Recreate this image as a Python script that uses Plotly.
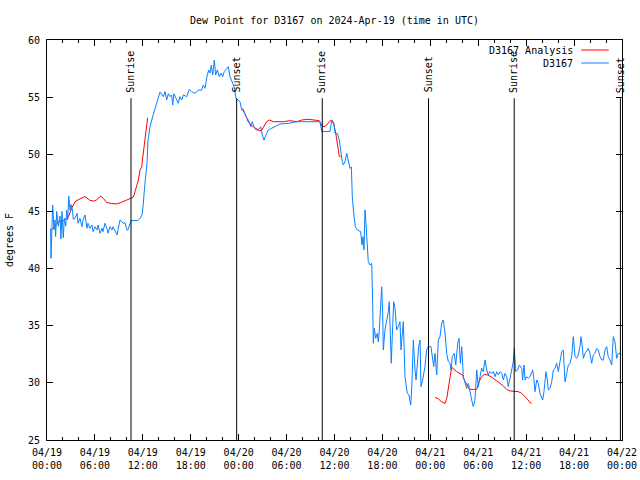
import datetime as dt
import plotly.graph_objects as go

BASE = dt.datetime(2024, 4, 19, 0, 0)

# Observed dew point (D3167): hours since 04/19 00:00 UTC, degrees F
obs_hours = [0.45, 0.5, 0.71, 0.88, 1.0, 1.08, 1.21, 1.42, 1.63, 1.75, 1.88, 2.04, 2.17, 2.34, 2.47, 2.59, 2.72, 2.88,
             3.0, 3.17, 3.3, 3.51, 3.76, 3.88, 4.13, 4.38, 4.51, 4.76, 5.01, 5.13, 5.38, 5.63, 5.76, 6.01, 6.26, 6.39,
             6.64, 6.89, 7.01, 7.26, 7.51, 7.64, 7.89, 8.14, 8.26, 8.51, 8.77, 8.89, 9.14, 9.39, 9.52, 9.77, 10.02,
             10.14, 10.39, 10.52, 11.39, 11.65, 11.9, 12.02, 12.27, 12.52, 12.65, 12.9, 13.27, 13.78, 14.15, 14.57,
             14.78, 14.99, 15.19, 15.4, 15.61, 15.74, 15.9, 16.15, 16.44, 16.65, 16.87, 17.07, 17.49, 17.82, 18.12,
             18.53, 18.95, 19.37, 19.57, 19.78, 19.91, 20.07, 20.25, 20.41, 20.57, 20.75, 20.95, 21.12, 21.32, 21.57,
             21.79, 22.0, 22.2, 22.5, 22.7, 22.92, 23.13, 23.42, 23.67, 23.96, 24.17, 24.38, 24.67, 24.92, 25.2,
             25.51, 25.7, 25.92, 26.17, 26.46, 26.76, 26.96, 27.17, 27.42, 27.71, 28.13, 28.55, 29.18, 30.22, 31.27,
             32.93, 34.18, 34.4, 35.02, 35.44, 35.65, 35.94, 36.06, 36.35, 36.6, 36.78, 36.94, 37.1, 37.32, 37.53,
             37.73, 37.94, 38.11, 38.23, 38.4, 38.61, 38.86, 39.28, 39.44, 39.57, 39.69, 39.82, 39.94, 40.07, 40.23,
             40.45, 40.66, 40.78, 40.86, 40.98, 41.16, 41.36, 41.49, 41.61, 41.78, 41.91, 42.03, 42.11, 42.32, 42.53,
             42.74, 42.86, 43.03, 43.11, 43.28, 43.41, 43.58, 43.78, 43.99, 44.2, 44.33, 44.49, 44.62, 44.83, 45.11,
             45.33, 45.54, 45.66, 45.87, 46.08, 46.21, 46.37, 46.54, 46.71, 46.83, 47.04, 47.33, 47.54, 47.75, 48.08,
             48.25, 48.42, 48.58, 48.8, 49.0, 49.21, 49.42, 49.62, 49.84, 50.05, 50.25, 50.46, 50.59, 50.75, 51.0,
             51.18, 51.43, 51.59, 51.76, 51.93, 52.13, 52.26, 52.55, 52.76, 52.97, 53.18, 53.38, 53.59, 53.81, 54.01,
             54.22, 54.43, 54.63, 54.85, 55.06, 55.26, 55.47, 55.68, 55.89, 56.1, 56.31, 56.51, 56.72, 56.94, 57.14,
             57.35, 57.56, 57.76, 57.98, 58.18, 58.39, 58.52, 58.69, 58.94, 59.15, 59.44, 59.55, 59.73, 59.86, 60.07,
             60.27, 60.48, 60.69, 60.82, 60.98, 61.11, 61.32, 61.52, 61.73, 61.95, 62.07, 62.23, 62.36, 62.48, 62.65,
             62.77, 62.99, 63.2, 63.4, 63.61, 63.82, 64.03, 64.24, 64.45, 64.65, 64.86, 65.08, 65.28, 65.49, 65.7,
             65.9, 66.12, 66.33, 66.53, 66.74, 66.87, 67.03, 67.16, 67.37, 67.58, 67.78, 67.99, 68.21, 68.41, 68.62,
             68.83, 69.03, 69.25, 69.46, 69.66, 69.87, 70.08, 70.28, 70.5, 70.71, 70.91, 71.12, 71.33, 71.54, 71.75,
             71.9]
obs_values = [43.5, 40.9, 45.56, 43.4, 44.25, 42.8, 45.0, 43.7, 44.6, 42.6, 45.0, 42.7, 44.4, 43.7, 45.1, 44.25, 46.35, 45.1,
              45.6, 45.2, 44.3, 44.4, 44.84, 43.96, 44.4, 43.66, 44.25, 44.69, 43.52, 43.96, 43.52, 43.81, 43.23, 43.66,
              43.38, 43.81, 43.09, 43.52, 43.23, 43.96, 43.52, 43.09, 43.66, 43.38, 43.66, 43.23, 42.94, 43.38, 44.25,
              44.1, 43.96, 44.0, 43.38, 43.38, 43.81, 44.2, 44.2, 44.4, 44.7, 45.4, 47.5, 49.2, 51.25, 52.4, 53.4, 54.6,
              55.45, 55.04, 55.48, 54.75, 55.3, 55.04, 55.2, 54.31, 55.3, 54.9, 54.46, 55.04, 54.75, 55.2, 55.04, 55.68,
              55.48, 55.33, 55.62, 55.62, 56.06, 55.77, 56.35, 56.94, 57.38, 57.1, 57.8, 56.94, 58.25, 56.94, 57.38,
              56.8, 57.1, 56.8, 57.24, 57.52, 57.67, 56.8, 56.35, 55.92, 54.9, 54.75, 54.6, 53.88, 53.73, 53.29, 53.0,
              52.41, 52.85, 52.41, 52.13, 52.13, 52.41, 51.69, 51.25, 51.69, 52.13, 52.27, 52.41, 52.65, 52.7, 52.85,
              52.85, 52.85, 52.0, 52.0, 52.0, 53.0, 52.71, 51.84, 51.84, 51.25, 50.09, 49.5, 49.06, 49.35, 50.09,
              49.35, 48.77, 48.9, 46.29, 44.84, 43.66, 43.38, 43.23, 42.06, 42.79, 41.63, 45.13, 43.96, 41.77, 40.6,
              40.31, 40.45, 37.1, 33.46, 34.77, 33.9, 34.33, 33.6, 34.63, 37.4, 38.41, 36.08, 32.88, 34.63, 35.35,
              36.23, 37.1, 33.75, 31.71, 34.92, 37.1, 36.52, 34.63, 34.92, 35.35, 32.88, 34.63, 35.35, 30.54, 29.08,
              28.94, 28.06, 29.38, 33.75, 31.13, 30.25, 31.56, 33.17, 33.75, 29.67, 30.25, 31.42, 32.88, 33.17, 33.17,
              32.29, 31.42, 32.58, 30.69, 33.75, 34.04, 35.21, 35.5, 34.33, 32.58, 31.85, 31.71, 31.13, 32.29, 32.58,
              31.56, 33.46, 33.9, 31.71, 33.17, 30.54, 30.25, 29.52, 29.96, 29.08, 28.5, 27.92, 28.5, 31.13, 29.67,
              30.54, 31.27, 30.98, 32.0, 31.13, 30.69, 30.98, 30.83, 30.98, 30.54, 30.98, 30.69, 30.98, 30.83, 30.25,
              30.83, 30.54, 29.67, 30.4, 30.98, 31.85, 33.02, 30.98, 31.13, 31.56, 31.27, 30.25, 31.56, 30.25, 30.54,
              30.4, 30.54, 30.98, 31.13, 30.25, 29.23, 30.25, 29.96, 29.08, 28.79, 28.5, 29.23, 30.54, 30.98, 30.25,
              29.38, 29.52, 30.1, 31.13, 31.27, 31.71, 30.98, 31.85, 32.73, 32.88, 30.1, 30.83, 31.56, 31.71, 32.29,
              34.04, 32.29, 32.15, 32.44, 33.17, 34.04, 33.17, 32.15, 32.58, 32.88, 33.02, 32.58, 31.71, 32.44, 32.58,
              33.02, 32.88, 32.29, 32.0, 32.0, 32.88, 33.17, 32.29, 32.0, 31.56, 34.04, 33.6, 32.15, 32.58, 32.58,
              32.4]

# Analysis dew point (D3167 Analysis); None marks a gap
ana_hours = [0.63, 1.0, 1.42, 2.04, 2.67, 3.09, 3.51, 4.13, 4.76, 5.38, 5.8, 6.22, 6.72, 7.05, 7.47, 8.1, 8.72, 9.35,
             9.98, 10.6, 10.81, 11.02, 11.23, 11.44, 11.65, 11.86, 11.98, 12.15, 12.27, 12.36, 12.48, 12.6, None,
             24.5, 24.67, 24.92, 25.2, 25.51, 25.83, 26.17, 26.58, 26.88, 27.17, 27.5, 27.84, 28.34, 29.59, 30.43,
             31.27, 31.89, 32.72, 33.56, 34.1, 34.44, 34.69, 35.02, 35.35, 35.65, 35.94, 36.19, 36.35, 36.5, 36.6,
             36.75, None,
             48.58, 49.0, 49.42, 49.84, 50.05, 50.25, 50.46, 50.67, 51.3, 51.72, 52.01, 52.26, 52.55, 52.89, 53.38,
             53.81, 54.09, 54.43, 54.76, 55.18, 55.6, 56.1, 56.6, 57.14, 57.56, 57.98, 58.39, 59.02, 59.44, 59.65,
             60.07, 60.48, 60.69]
ana_values = [43.4, 43.7, 44.1, 44.2, 44.5, 45.27, 45.85, 46.1, 46.3, 45.97, 45.9, 46.0, 46.35, 46.15, 45.77, 45.7, 45.65,
              45.8, 46.0, 46.2, 46.25, 46.73, 47.31, 47.75, 48.63, 48.92, 49.65, 50.67, 51.25, 52.27, 52.96, 53.2, None,
              54.02, 53.73, 53.29, 52.85, 52.56, 52.41, 52.27, 52.07, 52.1, 52.41, 52.85, 53.0, 52.85, 52.85, 52.94,
              52.85, 53.0, 53.06, 53.0, 52.94, 52.48, 52.41, 52.56, 52.85, 53.0, 52.56, 51.69, 51.1, 50.3, 49.8,
              49.8, None,
              28.73, 28.6, 28.35, 28.2, 28.6, 29.5, 30.4, 31.36, 30.98, 30.83, 30.69, 30.25, 29.81, 29.43, 29.43,
              29.43, 30.1, 30.54, 30.74, 30.69, 30.54, 30.31, 30.02, 29.73, 29.43, 29.29, 29.29, 29.23, 29.08, 28.94,
              28.65, 28.27, 28.21]

# Sun events (hours since 04/19 00:00 UTC)
sun_hours = [10.52, 23.75, 34.47, 47.77, 58.5, 71.8]
sun_labels = ["Sunrise", "Sunset", "Sunrise", "Sunset", "Sunrise", "Sunset"]
sun_line_top = 54.9

series_names = ["D3167 Analysis", "D3167"]
series_colors = ["#ff0000", "#0a80ff"]

FONT = "DejaVu Sans Mono"
FS = 10


def to_time(hours):
    return [BASE + dt.timedelta(hours=h) if h is not None else None for h in hours]


fig = go.Figure()
fig.add_trace(go.Scatter(x=to_time(ana_hours), y=ana_values, mode="lines", name=series_names[0],
                         line=dict(color=series_colors[0], width=1), connectgaps=False, showlegend=False))
fig.add_trace(go.Scatter(x=to_time(obs_hours), y=obs_values, mode="lines", name=series_names[1],
                         line=dict(color=series_colors[1], width=1), showlegend=False))

for h, lab in zip(sun_hours, sun_labels):
    t = BASE + dt.timedelta(hours=h)
    fig.add_shape(type="line", xref="x", yref="y", x0=t, x1=t, y0=25, y1=sun_line_top,
                  line=dict(color="black", width=1))
    fig.add_annotation(x=t, y=sun_line_top + 0.3, xref="x", yref="y", text=lab, textangle=-90,
                       showarrow=False, xanchor="center", yanchor="bottom",
                       font=dict(family=FONT, size=FS, color="black"))

# Gnuplot-style legend in the top-right corner (text, then line sample)
legend_rows = [0.975, 0.9425]
for name, color, yp in zip(series_names, series_colors, legend_rows):
    fig.add_annotation(x=0.918, y=yp, xref="paper", yref="paper", text=name, showarrow=False,
                       xanchor="right", yanchor="middle", font=dict(family=FONT, size=FS, color="black"))
    fig.add_shape(type="line", xref="paper", yref="paper", x0=0.929, x1=0.977, y0=yp, y1=yp,
                  line=dict(color=color, width=1))

fig.update_layout(
    width=640, height=480,
    margin=dict(l=47, r=18, t=40, b=40, autoexpand=False),
    paper_bgcolor="white", plot_bgcolor="white",
    font=dict(family=FONT, size=FS, color="black"),
    title=dict(text="Dew Point for D3167 on 2024-Apr-19 (time in UTC)", x=0.5, xref="paper",
               y=1 - 20 / 480, yref="container", yanchor="middle",
               font=dict(family=FONT, size=FS, color="black")),
    showlegend=False,
)
fig.update_xaxes(
    type="date", automargin=False,
    range=[BASE, BASE + dt.timedelta(hours=72)],
    tick0=BASE, dtick=6 * 3600 * 1000, tickformat="%m/%d<br>%H:%M",
    ticks="inside", ticklen=6, tickcolor="black", ticklabelstandoff=3,
    minor=dict(dtick=2 * 3600 * 1000, ticks="inside", ticklen=3, tickcolor="black", showgrid=False),
    showline=True, linecolor="black", linewidth=1, mirror="ticks",
    showgrid=False, zeroline=False,
    tickfont=dict(family=FONT, size=FS),
)
fig.update_yaxes(
    automargin=False,
    range=[25, 60], dtick=5, tick0=25,
    ticks="inside", ticklen=6, tickcolor="black", ticklabelstandoff=4,
    showline=True, linecolor="black", linewidth=1, mirror="ticks",
    showgrid=False, zeroline=False,
    title=dict(text="degrees F", font=dict(family=FONT, size=FS), standoff=12),
    tickfont=dict(family=FONT, size=FS),
)

fig.write_html("out.html", config={"displayModeBar": False},
               post_script="document.body.style.margin='0px';")
